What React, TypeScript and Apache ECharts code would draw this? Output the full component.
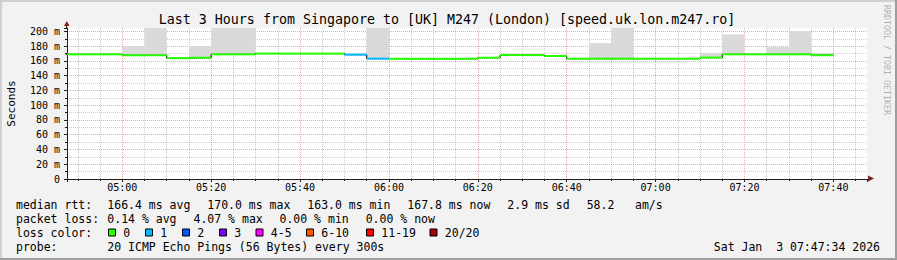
import React, { useEffect, useRef } from 'react';
import * as echarts from 'echarts';

const FONT = '"DejaVu Sans Mono", monospace';

// 5-minute RRD steps, start of each step in minutes since midnight
const intervalStarts = [
  285, 290, 295, 300, 305, 310, 315, 320, 325, 330, 335, 340, 345, 350, 355,
  360, 365, 370, 375, 380, 385, 390, 395, 400, 405, 410, 415, 420, 425, 430,
  435, 440, 445, 450, 455,
];
const STEP_MIN = 5;
// median RTT (ms) per step
const medianMs = [
  169.0, 169.0, 169.0, 167.8, 167.8, 163.8, 164.4, 169.0, 169.0, 170.0,
  170.0, 170.0, 170.0, 168.6, 163.2, 163.0, 163.0, 163.0, 163.0, 164.4,
  168.0, 168.0, 166.7, 163.1, 163.1, 163.1, 163.1, 163.1, 163.1, 164.6,
  169.0, 169.0, 169.0, 169.0, 167.8,
];
// top of the smoke (max ping, ms) per step
const smokeMaxMs = [
  169.0, 169.0, 169.0, 180.0, 230.0, 163.8, 180.0, 230.0, 230.0, 170.0,
  170.0, 170.0, 170.0, 168.6, 230.0, 163.0, 163.0, 163.0, 163.0, 164.4,
  168.0, 168.0, 166.7, 163.1, 184.2, 230.0, 163.1, 163.1, 163.1, 171.0,
  196.0, 169.0, 178.8, 200.0, 171.0,
];
// loss class index per step
const lossIdx = [
  0, 0, 0, 0, 0, 0, 0, 0, 0, 0, 0, 0, 0, 1, 1, 0, 0, 0, 0, 0,
  0, 0, 0, 0, 0, 0, 0, 0, 0, 0, 0, 0, 0, 0, 0,
];

const X_MIN = 4 * 60 + 47 + 34 / 60; // 04:47:34
const X_MAX = X_MIN + 180; // 07:47:34
const Y_MAX = 204.7;

const lossLabels = ['0', '1', '2', '3', '4-5', '6-10', '11-19', '20/20'];
const lossColors = ['#26ff00', '#00b8ff', '#0059ff', '#7e00ff', '#ff00ff', '#ff5500', '#ff0000', '#a10000'];
const lossBoxX = [108.5, 145.5, 182.5, 219.5, 256, 306.5, 366.5, 430];

const rttStats = ['166.4 ms avg', '170.0 ms max', '163.0 ms min', '167.8 ms now', '2.9 ms sd', '58.2', 'am/s'];
const rttStatsX = [107.3, 207.3, 307.3, 407.3, 507.3, 586.7, 635];
const lossStats = ['0.14 % avg', '4.07 % max', '0.00 % min', '0.00 % now'];
const lossStatsX = [107.3, 193.5, 279.5, 365.7];

const TITLE = 'Last 3 Hours from Singapore to [UK] M247 (London) [speed.uk.lon.m247.ro]';
const PROBE = '20 ICMP Echo Pings (56 Bytes) every 300s';
const DATE = 'Sat Jan  3 07:47:34 2026';

const pad = (n: number) => (n < 10 ? '0' + n : '' + n);
const fmtTime = (v: number) => {
  const m = Math.round(v);
  if (Math.abs(v - m) > 0.01) return '';
  return pad(Math.floor(m / 60)) + ':' + pad(m % 60);
};

const GRID_COLOR = 'rgba(143,143,143,0.45)';
const MGRID_COLOR = 'rgba(222,79,79,0.5)';
const AXIS_COLOR = '#1f1f1f';
const ARROW_COLOR = '#801f1f';

export default function App() {
  const ref = useRef<HTMLDivElement>(null);
  useEffect(() => {
    if (!ref.current) return;
    const chart = echarts.init(ref.current, undefined, { renderer: 'svg' });

    const smokeData = intervalStarts.map((t, i) => [t, t + STEP_MIN, medianMs[i], smokeMaxMs[i]]);
    const colorData = intervalStarts.map((t, i) => [t, t + STEP_MIN, medianMs[i], lossIdx[i]]);
    const lineData = intervalStarts.map((t, i) => [t, medianMs[i]]);
    lineData.push([intervalStarts[intervalStarts.length - 1] + STEP_MIN, medianMs[medianMs.length - 1]]);

    const rowY = [204.5, 218.5, 232.5, 246.5];
    const txt = (text: string, x: number, y: number, size = 11.5, extra: any = {}) => ({
      type: 'text',
      x,
      y,
      silent: true,
      style: {
        text,
        fill: '#000',
        font: `${size}px ${FONT}`,
        align: 'left',
        verticalAlign: 'middle',
        textAlign: 'left',
        textVerticalAlign: 'middle',
        ...extra,
      },
    });

    const graphics: any[] = [
      // frame
      { type: 'rect', shape: { x: 0, y: 0, width: 897, height: 2 }, style: { fill: '#cfcfcf' }, silent: true },
      { type: 'rect', shape: { x: 0, y: 0, width: 2, height: 260 }, style: { fill: '#cfcfcf' }, silent: true },
      { type: 'rect', shape: { x: 0, y: 258, width: 897, height: 2 }, style: { fill: '#9e9e9e' }, silent: true },
      { type: 'rect', shape: { x: 895, y: 0, width: 2, height: 260 }, style: { fill: '#9e9e9e' }, silent: true },
      // title
      txt(TITLE, 447, 19.5, 13.3, { align: 'center', textAlign: 'center' }),
      // y-axis name
      {
        type: 'text', x: 11, y: 103.5, rotation: Math.PI / 2, silent: true,
        style: { text: 'Seconds', fill: '#000', font: `11px ${FONT}`, align: 'center', verticalAlign: 'middle', textAlign: 'center', textVerticalAlign: 'middle' },
      },
      // watermark
      {
        type: 'text', x: 886.5, y: 5, rotation: -Math.PI / 2, silent: true,
        style: { text: 'RRDTOOL / TOBI OETIKER', fill: 'rgba(0,0,0,0.3)', font: `8.3px ${FONT}`, align: 'left', verticalAlign: 'middle', textAlign: 'left', textVerticalAlign: 'middle' },
      },
      // arrows
      { type: 'line', shape: { x1: 66.5, y1: 28, x2: 66.5, y2: 25 }, style: { stroke: AXIS_COLOR, lineWidth: 1 }, silent: true },
      { type: 'polygon', shape: { points: [[64, 26], [69.5, 26], [66.75, 21]] }, style: { fill: ARROW_COLOR }, silent: true },
      { type: 'polygon', shape: { points: [[868, 175.5], [868, 181.5], [874, 178.5]] }, style: { fill: ARROW_COLOR }, silent: true },
      // legend rows
      txt('median rtt:', 16, rowY[0]),
      ...rttStats.map((s, i) => txt(s, rttStatsX[i], rowY[0])),
      txt('packet loss:', 16, rowY[1]),
      ...lossStats.map((s, i) => txt(s, lossStatsX[i], rowY[1])),
      txt('loss color:', 16, rowY[2]),
      ...lossLabels.flatMap((l, i) => [
        { type: 'rect', silent: true, shape: { x: lossBoxX[i], y: rowY[2] - 3.5, width: 7, height: 7 }, style: { fill: lossColors[i], stroke: '#000', lineWidth: 1 } },
        txt(l, lossBoxX[i] + 14.8, rowY[2]),
      ]),
      txt('probe:', 16, rowY[3]),
      txt(PROBE, 107.3, rowY[3]),
      txt(DATE, 880, rowY[3], 11.5, { align: 'right', textAlign: 'right' }),
    ];

    chart.setOption({
      animation: false,
      backgroundColor: '#f2f2f2',
      grid: { left: 67, right: 30, top: 28, bottom: 81, show: true, backgroundColor: '#ffffff', borderWidth: 0, containLabel: false },
      xAxis: {
        type: 'value',
        min: X_MIN,
        max: X_MAX,
        splitNumber: 9,
        minInterval: 20,
        maxInterval: 20,
        axisLine: { show: true, onZero: false, lineStyle: { color: AXIS_COLOR, width: 1 } },
        axisTick: { show: true, length: 3, lineStyle: { color: AXIS_COLOR } },
        minorTick: { show: true, splitNumber: 4, length: 2, lineStyle: { color: AXIS_COLOR } },
        axisLabel: {
          show: true, margin: 3, color: '#000', fontFamily: FONT, fontSize: 10,
          showMinLabel: false, showMaxLabel: false, formatter: (v: number) => fmtTime(v),
        },
        splitLine: { show: true, showMinLine: false, showMaxLine: false, lineStyle: { color: MGRID_COLOR, width: 1, type: [1, 1] } },
        minorSplitLine: { show: true, lineStyle: { color: GRID_COLOR, width: 1, type: [1, 1] } },
      },
      yAxis: {
        type: 'value',
        min: 0,
        max: Y_MAX,
        interval: 20,
        axisLine: { show: true, lineStyle: { color: AXIS_COLOR, width: 1 } },
        axisTick: { show: true, length: 3, lineStyle: { color: AXIS_COLOR } },
        minorTick: { show: true, splitNumber: 2, length: 2, lineStyle: { color: AXIS_COLOR } },
        axisLabel: {
          show: true, margin: 7, color: '#000', fontFamily: FONT, fontSize: 10,
          showMaxLabel: false,
          formatter: (v: number) => (Math.abs(v - Math.round(v / 20) * 20) > 0.01 ? '' : v === 0 ? '0' : v + ' m'),
        },
        splitLine: { show: true, showMinLine: false, showMaxLine: false, lineStyle: { color: MGRID_COLOR, width: 1, type: [1, 1] } },
        minorSplitLine: { show: true, lineStyle: { color: GRID_COLOR, width: 1, type: [1, 1] } },
      },
      graphic: graphics,
      series: [
        {
          type: 'custom',
          name: 'smoke',
          clip: true,
          silent: true,
          z: 2,
          data: smokeData,
          encode: { x: [0, 1], y: [2, 3] },
          renderItem: (params: any, api: any) => {
            const s = api.value(0), e = api.value(1), lo = api.value(2), hi = api.value(3);
            if (hi <= lo) return null;
            const p1 = api.coord([s, hi]);
            const p2 = api.coord([e, lo]);
            const cs = params.coordSys;
            const shape = echarts.graphic.clipRectByRect(
              { x: p1[0], y: p1[1], width: p2[0] - p1[0], height: p2[1] - p1[1] },
              { x: cs.x, y: cs.y, width: cs.width, height: cs.height }
            );
            if (!shape) return null;
            return { type: 'rect', shape, style: { fill: '#dadada' } };
          },
        },
        {
          type: 'line',
          name: 'median',
          step: 'end',
          symbol: 'none',
          silent: true,
          z: 3,
          data: lineData,
          lineStyle: { color: '#000000', width: 1 },
        },
        {
          type: 'custom',
          name: 'median loss colour',
          clip: true,
          silent: true,
          z: 10,
          data: colorData,
          encode: { x: [0, 1], y: 2 },
          renderItem: (params: any, api: any) => {
            const s = Math.max(api.value(0), X_MIN);
            const e = Math.min(api.value(1), X_MAX);
            const y = api.value(2);
            const p1 = api.coord([s, y]);
            const p2 = api.coord([e, y]);
            return {
              type: 'rect',
              shape: { x: p1[0], y: p1[1] - 1, width: p2[0] - p1[0], height: 2 },
              style: { fill: lossColors[api.value(3)] },
            };
          },
        },
      ],
    });
    return () => chart.dispose();
  }, []);
  return <div ref={ref} style={{ position: 'fixed', left: 0, top: 0, width: 897, height: 260 }} />;
}
